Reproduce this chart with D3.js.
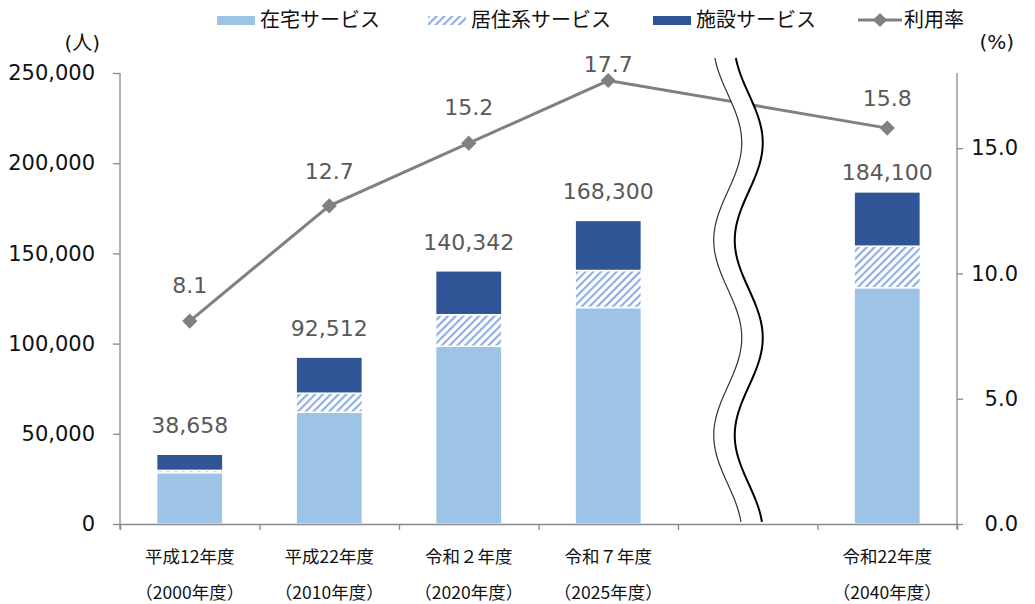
<!DOCTYPE html>
<html><head><meta charset="utf-8">
<script src="https://cdn.jsdelivr.net/npm/d3@7"></script>
<style>body{margin:0;background:#fff}svg{display:block}</style>
</head><body>
<svg id="c" width="1035" height="604"></svg>
<script>
// ---- data ----
const categories = ["平成12年度", "平成22年度", "令和２年度", "令和７年度", "", "令和22年度"];
const yearLabels = ["（2000年度）", "（2010年度）", "（2020年度）", "（2025年度）", "", "（2040年度）"];
const homeService = [28500, 62000, 98500, 120000, null, 131000];
const residentialService = [1200, 10500, 17500, 20500, null, 23000];
const facilityService = [8958, 20012, 24342, 27800, null, 30100];
const totals = [38658, 92512, 140342, 168300, null, 184100];
const usageRate = [8.1, 12.7, 15.2, 17.7, null, 15.8];
const leftTicks = [0, 50000, 100000, 150000, 200000, 250000];
const rightTicks = [0, 5, 10, 15];
const seriesNames = ["在宅サービス", "居住系サービス", "施設サービス", "利用率"];

// ---- styles ----
const C = {light: "#9DC3E6", dark: "#2F5597", hatch: "#7FA3E0", line: "#808080", axis: "#898989", label: "#595959"};
const rateLabelOffset = [36, 35, 36, 17, 0, 30];
const totalLabelOffset = [29, 29, 29, 29, 0, 20];
const NUM = "'DejaVu Sans', 'Noto Sans CJK JP', sans-serif";
const JP = "'Noto Sans CJK JP', sans-serif";

const svg = d3.select("#c");
const L = 120, R = 957, T = 73, B = 524;

const defs = svg.append("defs");
const pat = defs.append("pattern").attr("id", "hatch").attr("patternUnits", "userSpaceOnUse")
  .attr("width", 5.5).attr("height", 5.5).attr("patternTransform", "rotate(45)");
pat.append("rect").attr("width", 5.5).attr("height", 5.5).attr("fill", "#fff");
pat.append("line").attr("x1", 1.2).attr("y1", 0).attr("x2", 1.2).attr("y2", 5.5)
  .attr("stroke", C.hatch).attr("stroke-width", 1.9);

const x = d3.scaleBand().domain(d3.range(categories.length)).range([L, R]).padding(0);
const y = d3.scaleLinear().domain([0, 250000]).range([B, T]);
const y2 = d3.scaleLinear().domain([0, 18]).range([B, T]);
const barW = x.bandwidth() * 0.475;
const cx = i => x(i) + x.bandwidth() / 2;

// table for stacking
const rows = d3.range(categories.length).filter(i => totals[i] != null)
  .map(i => ({i, home: homeService[i], res: residentialService[i], fac: facilityService[i]}));
const keys = ["home", "res", "fac"];
const fills = {home: C.light, res: "url(#hatch)", fac: C.dark};
const stack = d3.stack().keys(keys)(rows);

const gBars = svg.append("g");
stack.forEach(layer => {
  gBars.selectAll(null).data(layer).join("rect")
    .attr("x", d => cx(d.data.i) - barW / 2)
    .attr("width", barW)
    .attr("y", d => y(d[1]))
    .attr("height", d => y(d[0]) - y(d[1]))
    .attr("fill", fills[layer.key])
    .attr("stroke", "#fff").attr("stroke-width", 1.5);
});

// axes
const axL = svg.append("g").attr("transform", `translate(${L},0)`)
  .call(d3.axisLeft(y).tickValues(leftTicks).tickFormat(d3.format(",")).tickSize(7).tickPadding(18));
const axR = svg.append("g").attr("transform", `translate(${R},0)`)
  .call(d3.axisRight(y2).tickValues(rightTicks).tickFormat(d3.format(".1f")).tickSize(6).tickPadding(8));
axR.selectAll("text").attr("text-anchor", "end").attr("x", 61);
const xi = d3.scaleLinear().domain([0, categories.length]).range([L, R]);
const axB = svg.append("g").attr("transform", `translate(0,${B})`)
  .call(d3.axisBottom(xi).tickValues(d3.range(categories.length + 1)).tickFormat("").tickSize(6));
[axL, axR, axB].forEach(a => {
  a.select(".domain").attr("stroke", C.axis).attr("stroke-width", 1.3);
  a.selectAll(".tick line").attr("stroke", C.axis).attr("stroke-width", 1.3);
  a.selectAll("text").attr("font-family", NUM).attr("font-size", 21).attr("fill", "#111");
});
axL.select(".domain").attr("d", `M-0,${T}H0V${B + 5}`);
axR.select(".domain").attr("d", `M0,${T}H0V${B + 5}`);

// category labels
const gX = svg.append("g").attr("font-family", JP).attr("font-size", 17.5).attr("fill", "#111").attr("text-anchor", "middle");
categories.forEach((c, i) => {
  gX.append("text").attr("x", cx(i)).attr("y", 563).text(c);
  gX.append("text").attr("x", cx(i)).attr("y", 599).text(yearLabels[i]);
});

// unit labels
svg.append("text").attr("x", 100).attr("y", 50).attr("text-anchor", "end")
  .attr("font-family", NUM).attr("font-size", 20).attr("fill", "#111").text("(人)");
svg.append("text").attr("x", 1014).attr("y", 49).attr("text-anchor", "end")
  .attr("font-family", NUM).attr("font-size", 20).attr("fill", "#111").text("(%)");

// total labels
svg.append("g").selectAll("text").data(rows).join("text")
  .attr("x", d => cx(d.i)).attr("y", d => y(totals[d.i]) - totalLabelOffset[d.i] + 8)
  .attr("text-anchor", "middle").attr("font-family", NUM).attr("font-size", 22).attr("fill", C.label)
  .text(d => d3.format(",")(totals[d.i]));

// rate line
const pts = d3.range(categories.length).filter(i => usageRate[i] != null).map(i => ({i, v: usageRate[i]}));
svg.append("path").datum(pts)
  .attr("d", d3.line().x(d => cx(d.i)).y(d => y2(d.v)))
  .attr("fill", "none").attr("stroke", C.line).attr("stroke-width", 3);

// break symbol over the gap slot
const gapIdx = categories.indexOf("");
const gc = cx(gapIdx) - 10;
const waveTop = 58, waveBot = B - 1;
const wx = yy => gc + 14 * Math.sin(2 * Math.PI * (yy - 94) / 195);
const ys = d3.range(waveTop, waveBot + 0.1, 2);
const leftPts = ys.map(yy => [wx(yy) - 10, yy]);
const rightPts = ys.map(yy => [wx(yy) + 11, yy]);
const ln = d3.line().curve(d3.curveBasis);
svg.append("path").attr("d", ln(leftPts) + "L" + rightPts.slice().reverse().map(p => p.join(",")).join("L") + "Z")
  .attr("fill", "#fff").attr("stroke", "none");
svg.append("path").attr("d", ln(leftPts)).attr("fill", "none").attr("stroke", "#333").attr("stroke-width", 1.2);
svg.append("path").attr("d", ln(rightPts)).attr("fill", "none").attr("stroke", "#000").attr("stroke-width", 2);

// markers
svg.append("g").selectAll("path").data(pts).join("path")
  .attr("d", d3.symbol().type(d3.symbolSquare).size(115))
  .attr("transform", d => `translate(${cx(d.i)},${y2(d.v)}) rotate(45)`)
  .attr("fill", C.line);

// rate labels
svg.append("g").selectAll("text").data(pts).join("text")
  .attr("x", d => cx(d.i)).attr("y", d => y2(d.v) - rateLabelOffset[d.i] + 8)
  .attr("text-anchor", "middle").attr("font-family", NUM).attr("font-size", 22).attr("fill", C.label)
  .text(d => d3.format(".1f")(d.v));

// legend
const leg = svg.append("g").attr("font-family", JP).attr("font-size", 20).attr("fill", "#111");
const legX = [217, 428, 653, 858];
[C.light, "url(#hatch)", C.dark].forEach((f, k) => {
  leg.append("rect").attr("x", legX[k]).attr("y", 16).attr("width", 38).attr("height", 9).attr("fill", f);
  leg.append("text").attr("x", legX[k] + 43).attr("y", 27).text(seriesNames[k]);
});
leg.append("line").attr("x1", legX[3]).attr("x2", legX[3] + 44).attr("y1", 20).attr("y2", 20)
  .attr("stroke", C.line).attr("stroke-width", 3);
leg.append("path").attr("d", d3.symbol().type(d3.symbolSquare).size(100))
  .attr("transform", `translate(${legX[3] + 22},20) rotate(45)`).attr("fill", C.line);
leg.append("text").attr("x", legX[3] + 46).attr("y", 27).text(seriesNames[3]);
</script>
</body></html>
